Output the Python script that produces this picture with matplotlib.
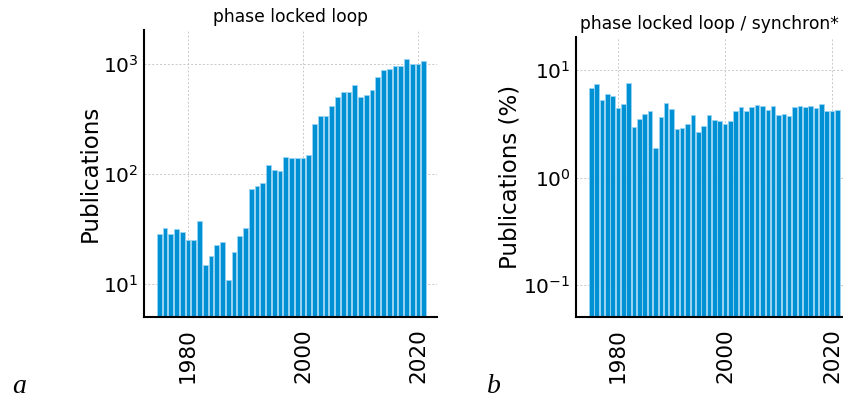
#!/usr/bin/env python3
# -*- coding: utf-8 -*-

import matplotlib
matplotlib.use("Agg")
import matplotlib.pyplot as plt
from matplotlib.ticker import FixedLocator, LogFormatterMathtext, NullLocator

years = list(range(1975, 2022))

# publications per year, "phase locked loop"
pll_counts = [
    28.7, 32.7, 28.7, 31.6, 29.7, 25.0, 25.0, 37.9, 14.9, 17.9,
    22.8, 24.0, 10.9, 19.8, 27.5, 32.7, 72.6, 77.3, 82.8, 120,
    110, 107, 142, 140, 140, 139, 148, 285, 341, 341,
    418, 501, 552, 552, 649, 498, 523, 577, 757, 875,
    901, 966, 959, 1118, 1007, 1007, 1057,
]

# share (%) of "phase locked loop" within "synchron*"
pll_share = [
    6.84, 7.45, 5.28, 6.01, 5.80, 4.49, 4.86, 7.62, 2.96, 3.49,
    3.92, 4.21, 1.87, 3.67, 4.92, 4.33, 2.86, 2.90, 3.13, 3.80,
    2.66, 3.00, 3.80, 3.47, 3.37, 3.13, 3.34, 4.21, 4.55, 4.18,
    4.55, 4.79, 4.62, 4.27, 4.62, 3.86, 3.88, 3.72, 4.52, 4.68,
    4.58, 4.68, 4.46, 4.89, 4.14, 4.21, 4.29,
]

x_ticks = [1980, 2000, 2020]

BAR = "#0091d5"
EDGE = "#9ad4f2"
GRID = "#c8c8c8"


def style_axes(ax, title, ylabel, yticks, xlim, ylim):
    ax.set_yscale("log")
    ax.set_xlim(*xlim)
    ax.set_ylim(*ylim)
    ax.xaxis.set_major_locator(FixedLocator(x_ticks))
    ax.yaxis.set_major_locator(FixedLocator(yticks))
    ax.yaxis.set_major_formatter(LogFormatterMathtext())
    ax.yaxis.set_minor_locator(NullLocator())
    ax.tick_params(axis="y", length=0, labelsize=14.5, pad=4)
    ax.tick_params(axis="x", length=0, labelsize=15.5, pad=8,
                   labelrotation=90)
    for side in ("top", "right"):
        ax.spines[side].set_visible(False)
    for side in ("left", "bottom"):
        ax.spines[side].set_linewidth(1.5)
    ax.grid(True, color=GRID, linestyle=(0, (2, 2)), linewidth=0.7)
    ax.set_axisbelow(True)
    ax.set_title(title, fontsize=12.3, pad=6)
    ax.set_ylabel(ylabel, fontsize=16.5, labelpad=1)


def main():
    fig = plt.figure(figsize=(8.43, 4.03), dpi=100)

    ax1 = fig.add_axes([0.1708, 0.2134, 0.3476, 0.712])
    ax1.bar(years, pll_counts, width=0.85, bottom=1e-3, color=BAR,
            edgecolor=EDGE, linewidth=0.6)
    style_axes(ax1, "phase locked loop", "Publications", [10, 100, 1000],
               (1972.35, 2023.3), (5.05, 2035))

    ax2 = fig.add_axes([0.6833, 0.2134, 0.3167, 0.695])
    ax2.bar(years, pll_share, width=0.85, bottom=1e-4, color=BAR,
            edgecolor=EDGE, linewidth=0.6)
    style_axes(ax2, "phase locked loop / synchron*", "Publications (%)",
               [0.1, 1, 10], (1972.15, 2022.06), (0.05, 20.5))

    fig.text(0.014, 0.025, "a", family="Liberation Serif", style="italic",
             fontsize=20)
    fig.text(0.578, 0.025, "b", family="Liberation Serif", style="italic",
             fontsize=20)

    fig.savefig("out.png", dpi=100)
    plt.close(fig)


if __name__ == "__main__":
    main()
